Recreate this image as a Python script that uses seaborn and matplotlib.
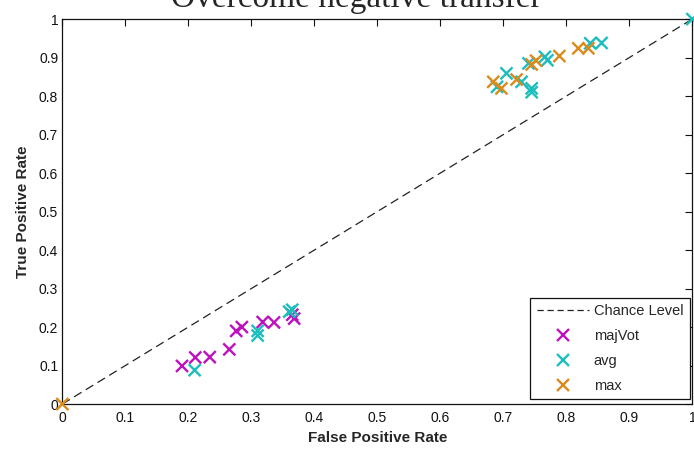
import numpy as np
import pandas as pd
import matplotlib
matplotlib.use("Agg")
import matplotlib.pyplot as plt
from matplotlib.lines import Line2D
import seaborn as sns

# ROC operating points for each fusion strategy
majvot_fpr = [0.19, 0.211, 0.234, 0.265, 0.276, 0.285, 0.318, 0.336, 0.368, 0.365]
majvot_tpr = [0.099, 0.121, 0.122, 0.142, 0.19, 0.2, 0.213, 0.212, 0.222, 0.232]

avg_fpr = [0.21, 0.31, 0.31, 0.36, 0.365, 0.69, 0.705, 0.729, 0.745, 0.745, 0.74, 0.766, 0.77, 0.838, 0.856, 1.0]
avg_tpr = [0.088, 0.19, 0.178, 0.24, 0.245, 0.824, 0.859, 0.837, 0.82, 0.81, 0.885, 0.902, 0.893, 0.937, 0.938, 1.0]

max_fpr = [0.0, 0.684, 0.697, 0.721, 0.745, 0.752, 0.789, 0.819, 0.835]
max_tpr = [0.0, 0.837, 0.82, 0.843, 0.882, 0.892, 0.904, 0.924, 0.924]

series_names = ["majVot", "avg", "max"]
series_colors = ["#BF10BF", "#1CBDBD", "#DB8A1C"]

chance_x = [0.0, 1.0]
chance_y = [0.0, 1.0]

ticks = np.round(np.arange(0, 1.01, 0.1), 1)
tick_labels = ["0"] + [f"{t:.1f}" for t in ticks[1:-1]] + ["1"]

df = pd.concat([
    pd.DataFrame({"fpr": majvot_fpr, "tpr": majvot_tpr, "method": "majVot"}),
    pd.DataFrame({"fpr": avg_fpr, "tpr": avg_tpr, "method": "avg"}),
    pd.DataFrame({"fpr": max_fpr, "tpr": max_tpr, "method": "max"}),
], ignore_index=True)

sns.set_style("white")
plt.rcParams["font.family"] = ["Liberation Sans", "DejaVu Sans"]

fig = plt.figure(figsize=(6.94, 4.54), dpi=100)
ax = fig.add_axes([0.0898, 0.110, 0.9078, 0.848])

sns.lineplot(x=chance_x, y=chance_y, ax=ax, color="#222222", linewidth=0.9,
             linestyle=(0, (7, 4)), legend=False)
sns.scatterplot(data=df, x="fpr", y="tpr", hue="method", hue_order=series_names,
                palette=dict(zip(series_names, series_colors)), marker="x",
                s=75, linewidth=1.7, ax=ax, legend=False, clip_on=False, zorder=3)

ax.set_xlim(0, 1)
ax.set_ylim(0, 1)
ax.set_xticks(ticks)
ax.set_yticks(ticks)
ax.set_xticklabels(tick_labels)
ax.set_yticklabels(tick_labels)
ax.tick_params(direction="in", length=5, width=0.8, labelsize=10, colors="#111111",
               top=True, right=True, pad=5)
ax.tick_params(axis="y", pad=3)
for sp in ax.spines.values():
    sp.set_color("#111111")
    sp.set_linewidth(0.9)

ax.set_xlabel("False Positive Rate", fontsize=11, fontweight="bold", labelpad=4)
ax.set_ylabel("True Positive Rate", fontsize=11, fontweight="bold", labelpad=6)

handles = [Line2D([0], [0], color="#222222", linewidth=0.9, linestyle=(0, (5, 3)))]
for c in series_colors:
    handles.append(Line2D([0], [0], linestyle="none", marker="x", markersize=8,
                          markeredgewidth=1.7, color=c))
leg = ax.legend(handles, ["Chance Level"] + series_names, loc="lower right",
                bbox_to_anchor=(0.996, 0.012), fontsize=10.5, frameon=True,
                fancybox=False, edgecolor="#111111", framealpha=1,
                handlelength=3.6, handletextpad=0.3, labelspacing=0.75,
                borderpad=0.45, borderaxespad=0.0)
leg.get_frame().set_linewidth(0.9)

fig.text(0.513, 0.985, "Overcome negative transfer", ha="center", va="baseline",
         fontsize=24, family=["Liberation Serif", "DejaVu Serif"])

fig.savefig("out.png", dpi=100)
